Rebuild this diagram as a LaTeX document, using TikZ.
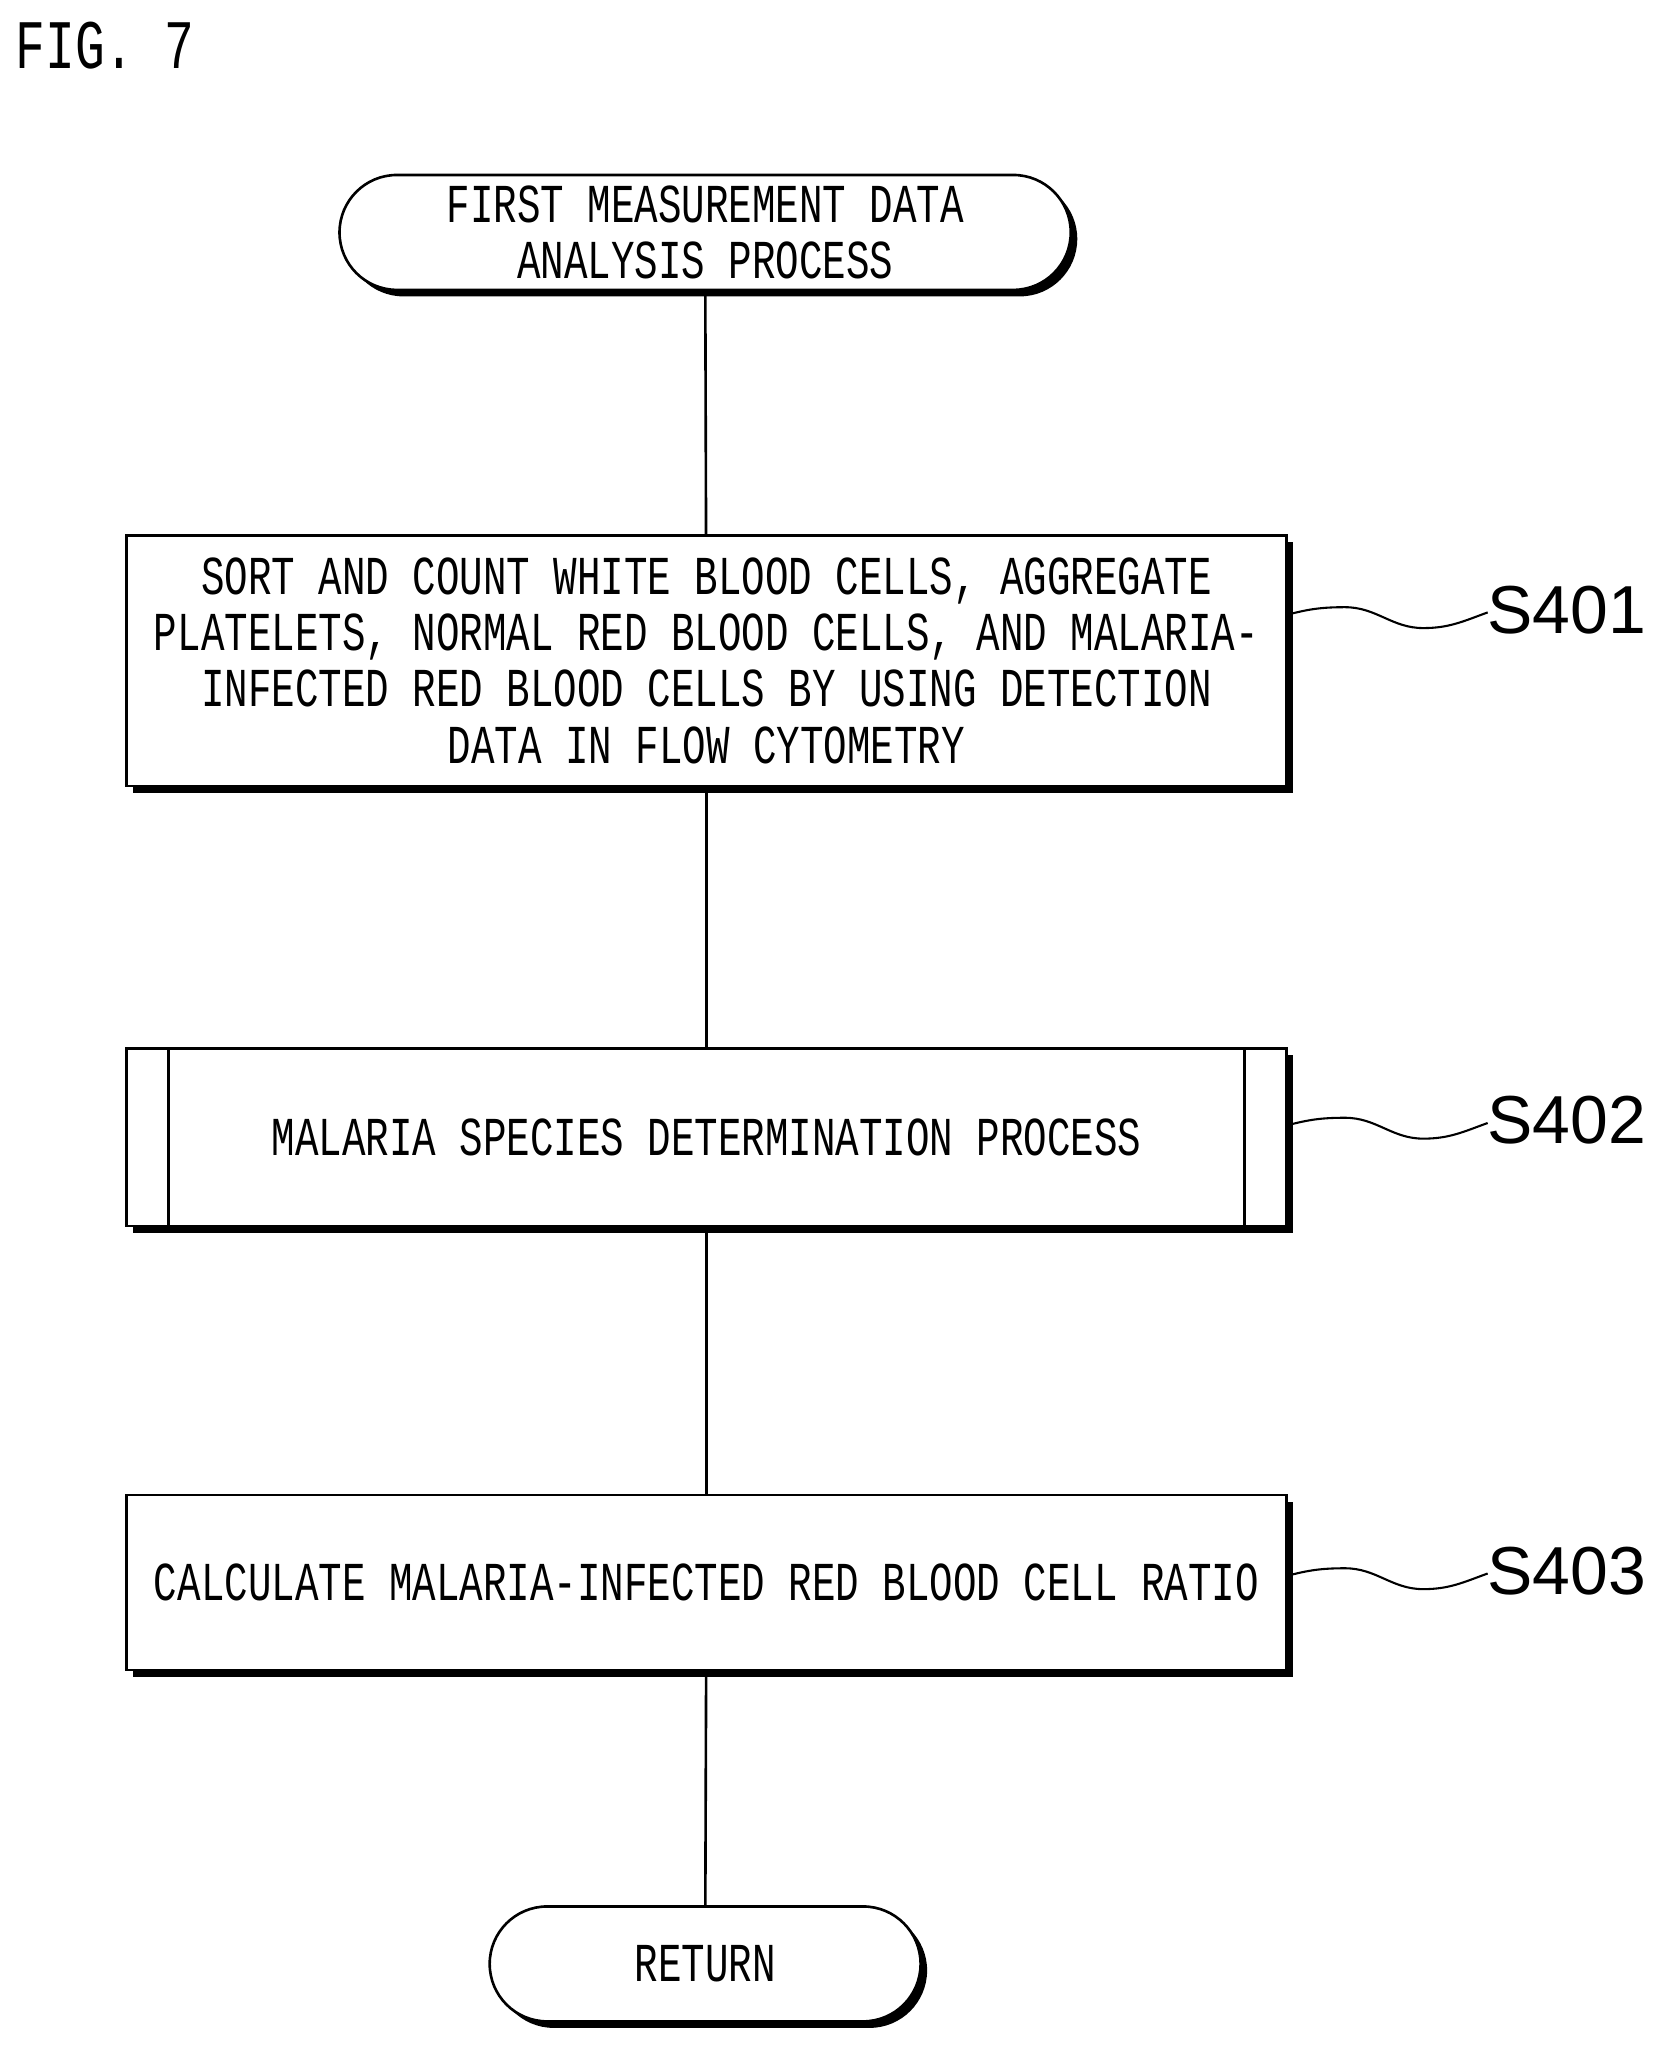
\documentclass[tikz,border=0pt]{standalone}
\usepackage{fontspec}
\setmainfont{Liberation Sans}
\setmonofont{Liberation Mono}
\usetikzlibrary{shadows,shapes.misc}
\newcommand\tx[1]{\scalebox{1}[1.4]{#1}}
\begin{document}
\begin{tikzpicture}[x=0.5pt,y=-0.5pt,
  every node/.style={inner sep=0pt,outer sep=0pt},
  txt/.style={font=\ttfamily\fontsize{15pt}{21.5pt}\selectfont,align=center},
  sh/.style={drop shadow={shadow xshift=2.5pt,shadow yshift=-2.5pt,opacity=1,fill=black}},
  box/.style={draw,line width=1pt,fill=white,sh,txt},
  term/.style={draw,line width=1pt,fill=white,sh,rounded rectangle,txt},
  lbl/.style={font=\fontsize{26pt}{26pt}\selectfont},
  ln/.style={line width=1pt}]
\useasboundingbox (0,0) rectangle (1280,1573);
\node[anchor=west,txt,font=\ttfamily\fontsize{19pt}{19pt}\selectfont] (fig) at (12,35) {\tx{FIG. 7}};
\node[term,minimum width=280pt,minimum height=44pt] (t0) at (540,178) {\tx{FIRST MEASUREMENT DATA}\\\tx{ANALYSIS PROCESS}};
\node[box,minimum width=444pt,minimum height=96pt] (b1) at (541,506) {\tx{SORT AND COUNT WHITE BLOOD CELLS, AGGREGATE}\\\tx{PLATELETS, NORMAL RED BLOOD CELLS, AND MALARIA-}\\\tx{INFECTED RED BLOOD CELLS BY USING DETECTION}\\\tx{DATA IN FLOW CYTOMETRY}};
\node[box,minimum width=444pt,minimum height=68pt] (b2) at (541,871) {\tx{MALARIA SPECIES DETERMINATION PROCESS}};
\draw[ln] ([xshift=16pt]b2.north west) -- ([xshift=16pt]b2.south west);
\draw[ln] ([xshift=-16pt]b2.north east) -- ([xshift=-16pt]b2.south east);
\node[box,minimum width=444pt,minimum height=67pt] (b3) at (541,1212) {\tx{CALCULATE MALARIA-INFECTED RED BLOOD CELL RATIO}};
\node[term,minimum width=165pt,minimum height=44pt] (t1) at (540,1504) {\tx{RETURN}};
\draw[ln] (t0) -- (b1);
\draw[ln] (b1) -- (b2);
\draw[ln] (b2) -- (b3);
\draw[ln] (b3) -- (t1);
\node[lbl] (s1) at (1200,467) {S401};
\node[lbl] (s2) at (1200,858) {S402};
\node[lbl] (s3) at (1200,1203) {S403};
\foreach \b/\s in {b1/s1,b2/s2,b3/s3}{
  \draw[line width=0.8pt] (\b.east |- \s.west) ++(0,4) to[out=15,in=180] ++(45,-6) to[out=0,in=180] ++(60,16) to[out=0,in=200] ([yshift=-1pt]\s.west);
}
\end{tikzpicture}
\end{document}
